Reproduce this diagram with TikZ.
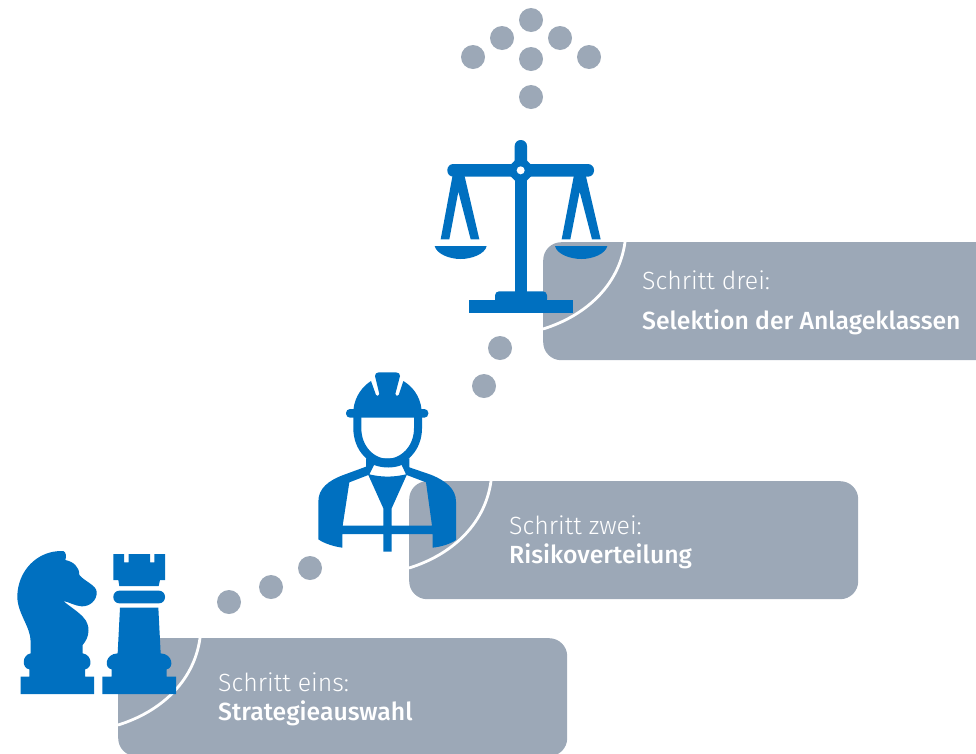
\documentclass[tikz,border=0pt]{standalone}
\usepackage{fontspec}
\setmainfont{Fira Sans Light}
\newfontfamily\strongf{Fira Sans Medium}
\definecolor{iconblue}{RGB}{0,112,192}
\definecolor{boxgray}{RGB}{156,168,183}
\tikzset{
  stepbox/.style={fill=boxgray,rounded corners=18pt,anchor=north west,inner sep=0pt,minimum height=118pt},
  dotn/.style={circle,fill=boxgray,minimum size=24pt,inner sep=0pt},
  arcline/.style={draw=white,line width=2.8pt},
  lighttext/.style={text=white,anchor=base west,inner sep=0pt,font=\fontsize{24.9}{28}\selectfont},
  strongtext/.style={text=white,anchor=base west,inner sep=0pt,font=\strongf\fontsize{24.8}{28}\selectfont},
  icon/.style={fill=iconblue,draw=none},
  zoomed/.style 2 args={shift={(#1pt,-#2pt)},x=0.33333pt,y=-0.33333pt}
}
\begin{document}
\begin{tikzpicture}[x=1pt,y=-1pt]
\useasboundingbox (0,0) rectangle (976,753);
\clip (0,0) rectangle (976,753);
% boxes
\node[stepbox,minimum width=449pt] (box1) at (118,638) {};
\node[stepbox,minimum width=449pt] (box2) at (409,481) {};
\node[stepbox,minimum width=470pt] (box3) at (543,242) {};
% arcs
\foreach \b in {box1,box2,box3}
  \draw[arcline] (\b.north west) ++(82,0) .. controls +(-6,44) and +(42,-13) .. +(-82,87);
% text
\node[lighttext] (t1a) at (218,691) {Schritt eins:};
\node[strongtext] (t1b) at (218,720) {Strategieauswahl};
\node[lighttext] (t2a) at (509,534) {Schritt zwei:};
\node[strongtext] (t2b) at (509,563) {Risikoverteilung};
\node[lighttext] (t3a) at (642,289) {Schritt drei:};
\node[strongtext] (t3b) at (642,329) {Selektion der Anlageklassen};
% dots
\node[dotn] (d1) at (229,602) {};
\node[dotn] (d2) at (271,587) {};
\node[dotn] (d3) at (310,568) {};
\node[dotn] (d4) at (484,386) {};
\node[dotn] (d5) at (500,348) {};
\node[dotn] (d6) at (531,97) {};
\node[dotn] (d7) at (531,59) {};
\node[dotn] (d8) at (473,57) {};
\node[dotn] (d9) at (589,57) {};
\node[dotn] (d10) at (502,38) {};
\node[dotn] (d11) at (560,38) {};
\node[dotn] (d12) at (531,20) {};
% chess icons
\begin{scope}[zoomed={0}{530}]
  % knight
  \fill[icon] (190,63) .. controls (110,60) and (52,125) .. (52,200)
    .. controls (52,250) and (92,290) .. (92,335) -- (92,370)
    .. controls (65,375) and (65,415) .. (88,418) -- (88,440) -- (62,440) -- (62,492) -- (282,492) -- (282,440) -- (255,440) -- (255,418)
    .. controls (278,415) and (278,375) .. (248,370) -- (248,345)
    .. controls (270,320) and (272,285) .. (250,262)
    .. controls (235,245) and (210,230) .. (190,213)
    .. controls (205,215) and (225,228) .. (245,229)
    .. controls (270,230) and (292,210) .. (290,185)
    .. controls (288,165) and (255,155) .. (238,135)
    .. controls (238,110) and (220,95) .. (196,90)
    .. controls (200,80) and (198,66) .. (190,63) -- cycle;
  % rook
  \fill[icon] (340,72) -- (372,72) -- (372,97) -- (386,97) -- (386,72) -- (450,72) -- (450,97) -- (463,97) -- (463,72) -- (495,72) -- (495,150) -- (480,150) -- (476,168) -- (358,168) -- (355,150) -- (340,150) -- cycle;
  \fill[icon,rounded corners=6pt] (340,182) rectangle (495,220);
  \fill[icon] (360,233) -- (475,233) -- (482,370)
    .. controls (520,372) and (522,415) .. (500,418) -- (500,440) -- (528,440) -- (528,492) -- (307,492) -- (307,440) -- (335,440) -- (335,418)
    .. controls (312,415) and (314,372) .. (353,370) -- cycle;
\end{scope}
% worker
\begin{scope}[zoomed={300}{360}]
  \fill[icon,rounded corners=4pt] (138,147) rectangle (385,173);
  \fill[icon] (160,150) .. controls (165,105) and (190,78) .. (213,63) -- (228,105) .. controls (230,110) and (238,108) .. (238,102) -- (225,48) .. controls (224,42) and (230,37) .. (236,37) -- (288,37) .. controls (296,37) and (301,42) .. (300,48) -- (286,102) .. controls (286,108) and (294,110) .. (296,105) -- (310,63) .. controls (335,78) and (360,105) .. (365,150) -- cycle;
  \draw[iconblue,line width=8pt] (172,170) -- (172,205) .. controls (172,265) and (215,308) .. (262,308) .. controls (310,308) and (354,265) .. (354,205) -- (354,170);
  \fill[icon,even odd rule]
    (198,295) -- (198,320) -- (130,345) .. controls (85,362) and (55,385) .. (55,425) -- (55,538) .. controls (75,552) and (105,560) .. (127,563) -- (127,522) -- (250,522) -- (250,575) -- (275,575) -- (275,522) -- (398,522) -- (398,563) .. controls (425,560) and (450,552) .. (468,540) -- (468,425) .. controls (468,385) and (435,362) .. (395,345) -- (328,322) -- (328,295) -- cycle
    (148,367) -- (205,345) -- (250,445) -- (250,497) -- (128,497) -- cycle
    (378,367) -- (320,345) -- (275,445) -- (275,497) -- (396,497) -- cycle
    (222,315) .. controls (250,325) and (280,325) .. (305,315) -- (318,343) .. controls (280,352) and (245,352) .. (208,343) -- cycle;
\end{scope}
% scales
\begin{scope}[zoomed={420}{130}]
  \fill[icon,rounded corners=6pt] (284,30) rectangle (321,120);
  \fill[icon] (284,100) rectangle (322,490);
  \fill[icon,rounded corners=6pt] (82,102) rectangle (522,140);
  \fill[icon] (288,88) -- (317,88) -- (336,107) -- (336,136) -- (317,155) -- (288,155) -- (269,136) -- (269,107) -- cycle;
  \fill[white] (302,121) circle (12);
  \fill[icon] (98,135) -- (133,135) -- (178,328) -- (152,328) -- (115,185) -- (88,328) -- (62,328) -- cycle;
  \fill[icon] (462,135) -- (497,135) -- (542,328) -- (516,328) -- (479,185) -- (451,328) -- (425,328) -- cycle;
  \fill[icon] (44,348) -- (200,348) .. controls (195,372) and (155,387) .. (122,387) .. controls (88,387) and (50,372) .. (44,348) -- cycle;
  \fill[icon] (405,348) -- (562,348) .. controls (556,372) and (518,387) .. (484,387) .. controls (450,387) and (410,372) .. (405,348) -- cycle;
  \fill[icon,rounded corners=4pt] (225,520) -- (225,484) -- (381,484) -- (381,520) -- cycle;
  \fill[icon] (147,510) rectangle (458,548);
\end{scope}
\end{tikzpicture}
\end{document}
